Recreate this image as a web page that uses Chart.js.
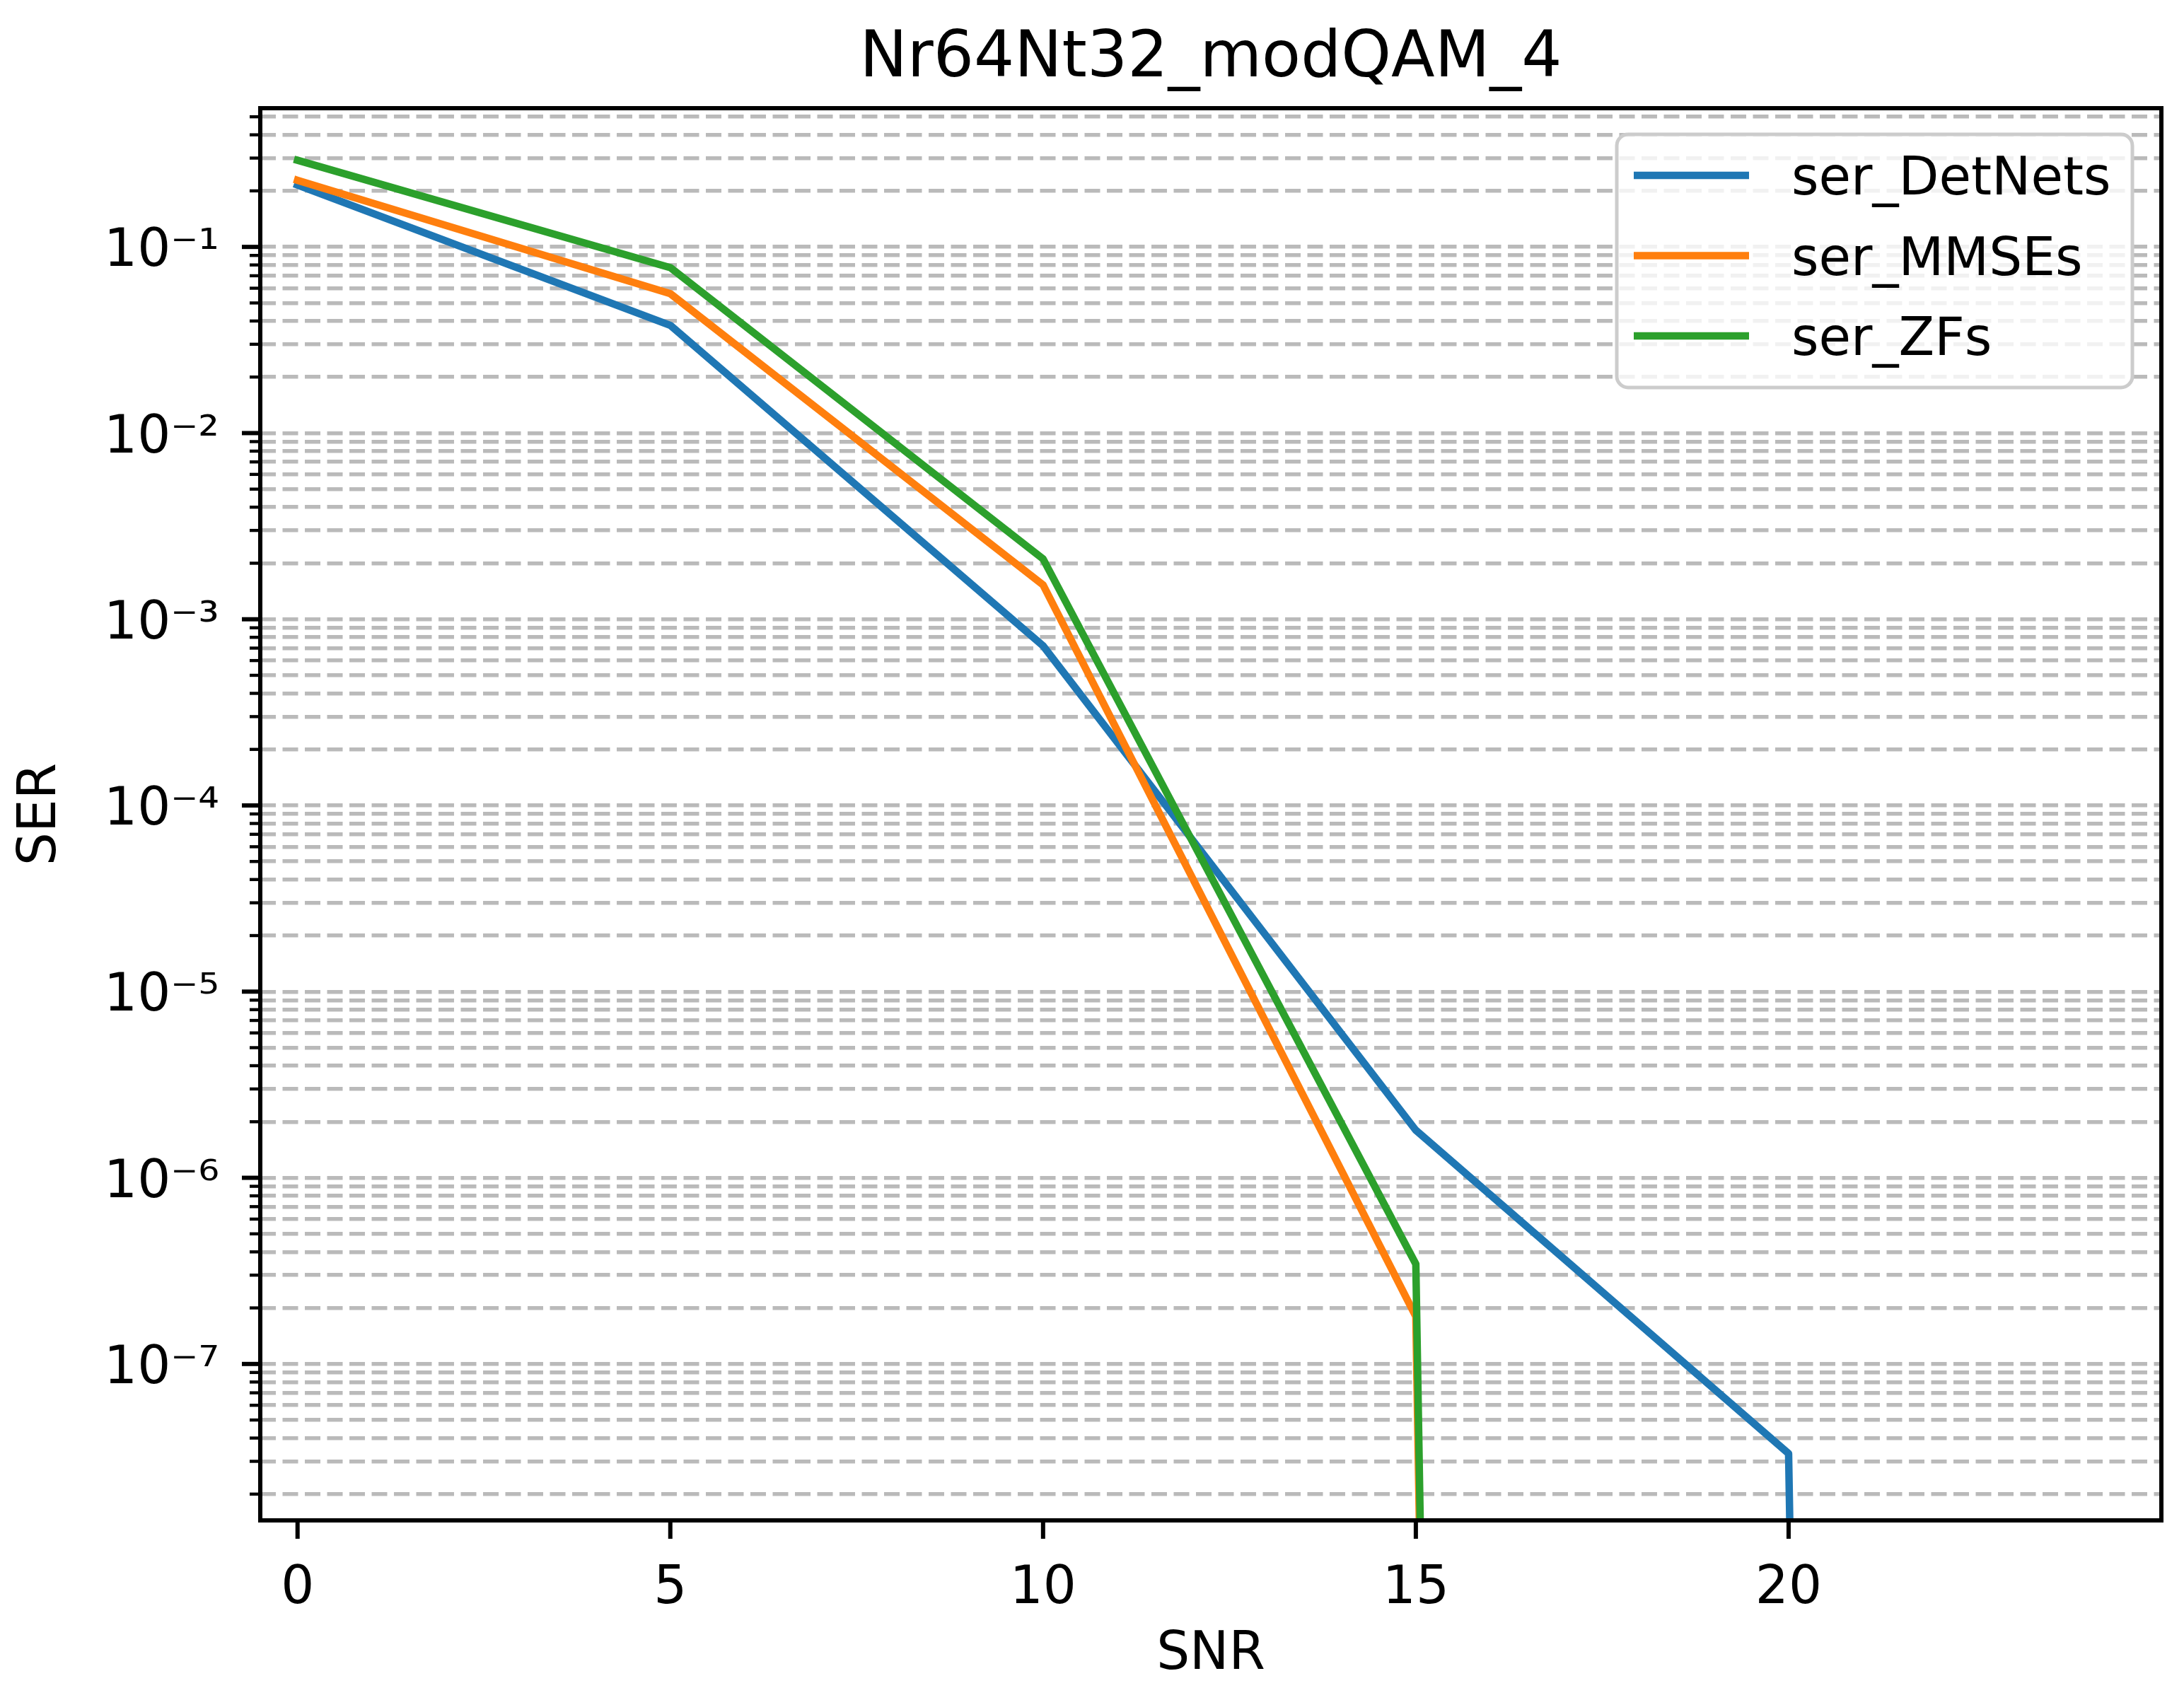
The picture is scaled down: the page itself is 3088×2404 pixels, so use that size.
<!DOCTYPE html>
<html>
<head>
<meta charset="utf-8">
<script src="https://cdn.jsdelivr.net/npm/chart.js@4.4.0/dist/chart.umd.min.js"></script>
<style>
html,body{margin:0;padding:0;background:#ffffff;}
#wrap{width:3088px;height:2404px;position:relative;}
</style>
</head>
<body>
<div id="wrap"><canvas id="c" width="3088" height="2404"></canvas></div>
<script>
// ---------------- data ----------------
const chartTitle = 'Nr64Nt32_modQAM_4';
const xAxisLabel = 'SNR';
const yAxisLabel = 'SER';
const snr = [0, 5, 10, 15, 20, 25];
const serDetNets = [0.215, 0.0379, 7.2e-4, 1.8e-6, 3.3e-8, 0];
const serMMSEs   = [0.228, 0.0561, 1.53e-3, 1.8e-7, 0, 0];
const serZFs     = [0.292, 0.0774, 2.11e-3, 3.44e-7, 0, 0];
const seriesNames = ['ser_DetNets', 'ser_MMSEs', 'ser_ZFs'];
const xTickValues = [0, 5, 10, 15, 20];
const yMajorTickValues = [1e-7, 1e-6, 1e-5, 1e-4, 1e-3, 1e-2, 1e-1];
const yMajorTickLabels = ['10\u207B\u2077', '10\u207B\u2076', '10\u207B\u2075', '10\u207B\u2074', '10\u207B\u00B3', '10\u207B\u00B2', '10\u207B\u00B9'];
const yDecadeExponents = [-8, -7, -6, -5, -4, -3, -2, -1];
const yMinorMultipliers = [1, 2, 3, 4, 5, 6, 7, 8, 9];
const xRange = [-0.5, 25];
const yRange = [1.445e-8, 0.556];

// ---------------- styling ----------------
const FONT = '"DejaVu Sans", "Liberation Sans", sans-serif';
const colors = ['#1f77b4', '#ff7f0e', '#2ca02c'];
const LINE_W = 10.5;
const SPINE_W = 6;
const MAJOR_LEN = 26, MINOR_LEN = 15, MAJOR_TW = 6, MINOR_TW = 4.4;
// log axis cannot show zero: clip non-positive values far below the axis (as matplotlib does)
const NONPOS_FLOOR = 1e-300;

function toPoints(ys) {
  return snr.map((x, i) => ({ x: x, y: ys[i] > 0 ? ys[i] : NONPOS_FLOOR }));
}

const seriesValues = [serDetNets, serMMSEs, serZFs];
const datasets = seriesNames.map((name, i) => ({
  label: name,
  data: toPoints(seriesValues[i]),
  borderColor: colors[i],
  backgroundColor: colors[i],
  borderWidth: LINE_W,
  pointRadius: 0,
  pointHoverRadius: 0,
  tension: 0,
  fill: false,
  order: seriesNames.length - i,   // later series drawn on top, like matplotlib
  borderJoinStyle: 'round',
  borderCapStyle: 'square'
}));

const decorPlugin = {
  id: 'mplDecor',
  beforeDraw(chart) {
    const ctx = chart.ctx;
    ctx.save();
    ctx.fillStyle = '#ffffff';
    ctx.fillRect(0, 0, chart.width, chart.height);
    ctx.restore();
  },
  afterDraw(chart) {
    const ctx = chart.ctx;
    const a = chart.chartArea;
    const xs = chart.scales.x, ys = chart.scales.y;
    ctx.save();
    // tick marks
    ctx.strokeStyle = '#000000';
    ctx.lineCap = 'butt';
    ys.ticks.forEach(t => {
      const major = yMajorTickValues.some(v => Math.abs(v - t.value) / v < 1e-6);
      const py = ys.getPixelForValue(t.value);
      ctx.lineWidth = major ? MAJOR_TW : MINOR_TW;
      ctx.beginPath();
      ctx.moveTo(a.left, py);
      ctx.lineTo(a.left - (major ? MAJOR_LEN : MINOR_LEN), py);
      ctx.stroke();
    });
    xs.ticks.forEach(t => {
      const px = xs.getPixelForValue(t.value);
      ctx.lineWidth = MAJOR_TW;
      ctx.beginPath();
      ctx.moveTo(px, a.bottom);
      ctx.lineTo(px, a.bottom + MAJOR_LEN);
      ctx.stroke();
    });
    // spines
    ctx.lineWidth = SPINE_W;
    ctx.lineJoin = 'miter';
    ctx.strokeRect(a.left, a.top, a.right - a.left, a.bottom - a.top);
    // title
    ctx.fillStyle = '#000000';
    ctx.font = '90px ' + FONT;
    ctx.textAlign = 'center';
    ctx.textBaseline = 'alphabetic';
    ctx.fillText(chartTitle, (a.left + a.right) / 2, a.top - 45);
    // legend
    const bw = 729, bh = 358;
    const bx = a.right - 41 - bw;
    const by = a.top + 37;
    ctx.beginPath();
    ctx.roundRect(bx, by, bw, bh, 16);
    ctx.fillStyle = 'rgba(255,255,255,0.8)';
    ctx.fill();
    ctx.lineWidth = 5;
    ctx.strokeStyle = '#cccccc';
    ctx.stroke();
    ctx.font = '74px ' + FONT;
    ctx.textAlign = 'left';
    ctx.textBaseline = 'alphabetic';
    chart.data.datasets.forEach((ds, i) => {
      const ly = by + 58 + i * 113.5;
      ctx.strokeStyle = ds.borderColor;
      ctx.lineWidth = LINE_W;
      ctx.lineCap = 'butt';
      ctx.beginPath();
      ctx.moveTo(bx + 24, ly);
      ctx.lineTo(bx + 187, ly);
      ctx.stroke();
      ctx.fillStyle = '#000000';
      ctx.fillText(ds.label, bx + 247, ly + 27);
    });
    ctx.restore();
  }
};

new Chart(document.getElementById('c'), {
  type: 'line',
  data: { datasets: datasets },
  plugins: [decorPlugin],
  options: {
    responsive: false,
    animation: false,
    devicePixelRatio: 1,
    events: [],
    layout: { padding: { left: 0, top: 153, right: 32, bottom: 0 } },
    plugins: {
      legend: { display: false },
      title: { display: false },
      tooltip: { enabled: false }
    },
    scales: {
      x: {
        type: 'linear',
        min: xRange[0],
        max: xRange[1],
        afterBuildTicks: axis => { axis.ticks = xTickValues.map(v => ({ value: v })); },
        afterFit: axis => { axis.height = 254; },
        grid: { display: false },
        border: { display: false },
        ticks: {
          autoSkip: false,
          maxRotation: 0,
          padding: 45,
          color: '#000000',
          font: { family: FONT, size: 74 },
          callback: v => String(v)
        },
        title: {
          display: true,
          text: xAxisLabel,
          color: '#000000',
          font: { family: FONT, size: 74, lineHeight: 1.2 },
          padding: { top: 0, bottom: 19 }
        }
      },
      y: {
        type: 'logarithmic',
        min: yRange[0],
        max: yRange[1],
        afterBuildTicks: axis => {
          const t = [];
          yDecadeExponents.forEach(e => {
            yMinorMultipliers.forEach(m => {
              const v = m * Math.pow(10, e);
              if (v >= yRange[0] && v <= yRange[1]) t.push({ value: v });
            });
          });
          axis.ticks = t;
        },
        afterFit: axis => { axis.width = 368; },
        grid: {
          display: true,
          drawTicks: false,
          color: '#bababa',
          lineWidth: 5.5
        },
        border: { display: false, dash: [22, 9.5] },
        ticks: {
          autoSkip: false,
          padding: 58,
          labelOffset: 8,
          color: '#000000',
          font: { family: FONT, size: 74 },
          callback: v => {
            const k = yMajorTickValues.findIndex(m => Math.abs(m - v) / m < 1e-6);
            return k >= 0 ? yMajorTickLabels[k] : '';
          }
        },
        title: {
          display: true,
          text: yAxisLabel,
          color: '#000000',
          font: { family: FONT, size: 74, lineHeight: 1.2 },
          padding: { top: 14, bottom: 0 }
        }
      }
    }
  }
});
</script>
</body>
</html>
